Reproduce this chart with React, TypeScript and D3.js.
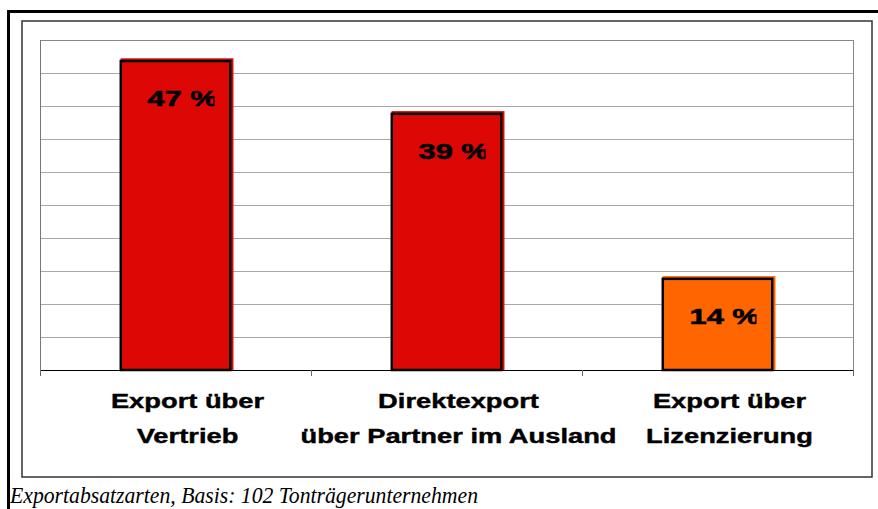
import React from 'react'
import * as d3 from 'd3'

const categories = ['Export über|Vertrieb', 'Direktexport|über Partner im Ausland', 'Export über|Lizenzierung']
const values = [47, 39, 14]
const valueLabels = ['47 %', '39 %', '14 %']
const barColors = ['#dd0806', '#dd0806', '#ff6600']
const yTicks = [0, 5, 10, 15, 20, 25, 30, 35, 40, 45, 50]
const caption = 'Exportabsatzarten, Basis: 102 Tonträgerunternehmen'

const W = 878
const H = 509
const plot = { left: 40, top: 40, right: 853, bottom: 370 }
const stretch = 1.4 // text in the source is widened horizontally
const sans = "'Liberation Sans', Arial, sans-serif"

export default function App() {
  const x = d3.scaleBand().domain(categories).range([plot.left, plot.right]).paddingInner(0).paddingOuter(0)
  const y = d3.scaleLinear().domain([0, 50]).range([plot.bottom, plot.top])
  const barW = x.bandwidth() * 0.413
  const bounds = [plot.left, ...categories.map(c => (x(c) ?? 0) + x.bandwidth())]

  return (
    <svg width={W} height={H} style={{ position: 'absolute', left: 0, top: 0, background: '#fff' }}>
      <defs>
        {categories.map((c, i) => {
          const bx = (x(c) ?? 0) + (x.bandwidth() - barW) / 2
          return (
            <clipPath id={`lc${i}`} key={c}>
              <rect x={bx} y={y(values[i])} width={95} height={80} />
            </clipPath>
          )
        })}
      </defs>

      {/* outer + inner frames */}
      <rect x={8.5} y={11.5} width={W + 20} height={H + 20} fill="none" stroke="#000" strokeWidth={3} />
      <rect x={22} y={21} width={850} height={456} fill="none" stroke="#333" strokeWidth={1.5} />

      {/* gridlines */}
      {yTicks.filter(t => t > 0).map(t => (
        <line key={t} x1={plot.left} x2={plot.right} y1={Math.round(y(t)) + 0.5} y2={Math.round(y(t)) + 0.5}
          stroke={t === 50 ? '#888' : '#a8a8a8'} strokeWidth={1} />
      ))}
      <line x1={plot.right + 0.5} x2={plot.right + 0.5} y1={plot.top} y2={plot.bottom} stroke="#888" />
      <line x1={plot.left + 0.5} x2={plot.left + 0.5} y1={plot.top} y2={plot.bottom} stroke="#777" />

      {/* bars */}
      {categories.map((c, i) => {
        const bx = (x(c) ?? 0) + (x.bandwidth() - barW) / 2
        const by = y(values[i])
        const bh = plot.bottom - by
        return (
          <g key={c}>
            <rect x={bx + 1} y={by - 1.5} width={barW + 1} height={bh + 1.5} fill={barColors[i]} />
            <rect x={bx + 1.25} y={by + 1.25} width={barW - 2.5} height={bh - 1.25} fill="none" stroke="#000" strokeWidth={2.5} />
            <g clipPath={`url(#lc${i})`}>
              <text transform={`translate(${bx + 28},${by + 46}) scale(${stretch},1)`}
                fontFamily={sans} fontWeight="bold" fontSize={22} fill="#000" stroke="#000" strokeWidth={0.6}>
                {valueLabels[i]}
              </text>
            </g>
          </g>
        )
      })}

      {/* baseline + tick marks */}
      <line x1={plot.left} x2={plot.right} y1={plot.bottom + 0.5} y2={plot.bottom + 0.5} stroke="#000" />
      {bounds.map((b, i) => (
        <line key={i} x1={b + 0.5} x2={b + 0.5} y1={plot.bottom} y2={plot.bottom + 6} stroke="#666" />
      ))}

      {/* category labels */}
      {categories.map(c => {
        const cx = (x(c) ?? 0) + x.bandwidth() / 2 + 12
        return c.split('|').map((line, j) => (
          <text key={c + j} transform={`translate(${cx},${plot.bottom + 38 + j * 35}) scale(${stretch},1)`}
            textAnchor="middle" fontFamily={sans} fontWeight="bold"
            fontSize={19.5} fill="#000" stroke="#000" strokeWidth={0.4}>
            {line}
          </text>
        ))
      })}

      {/* caption */}
      <text x={10} y={503} fontFamily="'Liberation Serif', 'Times New Roman', serif" fontStyle="italic"
        fontSize={24} textLength={468} lengthAdjust="spacingAndGlyphs" fill="#000">
        {caption}
      </text>
    </svg>
  )
}
